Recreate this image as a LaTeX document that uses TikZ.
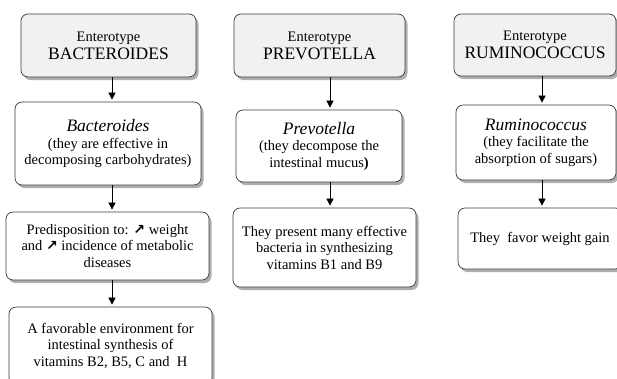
\documentclass[tikz,border=0pt]{standalone}
\usepackage{fontspec}
\setmainfont{Liberation Serif}
\newfontfamily\symfont{DejaVu Sans}
\usepackage{tikz}
\usetikzlibrary{arrows.meta,shadows}
\definecolor{cadreGris}{HTML}{3C3C3C}
\definecolor{fondEntete}{HTML}{F1F1F1}
\newcommand{\txtEntete}{\fontsize{14.5}{16}\selectfont}
\newcommand{\txtNom}{\fontsize{17.5}{20}\selectfont}
\newcommand{\txtCorps}{\fontsize{14.5}{16.5}\selectfont}
\newcommand{\hausse}{{\symfont\bfseries\fontsize{14}{14}\selectfont ↗}}

\begin{document}
\begin{tikzpicture}[x=1pt,y=-1pt,
  boite/.style={draw=cadreGris,line width=0.7pt,rounded corners=7pt,fill=white,
    align=center,inner sep=0pt,font=\txtCorps,
    drop shadow={shadow xshift=2.5pt,shadow yshift=-3pt,fill=black!45,opacity=0.7}},
  entete/.style={boite,fill=fondEntete,font=\txtEntete},
  fleche/.style={-{Triangle[length=7pt,width=7pt]},line width=0.6pt}]
\useasboundingbox (0,0) rectangle (617,378);
% colonne Bacteroides
\node[entete,minimum width=175,minimum height=63] (bact1) at (108.5,45.5)
  {Enterotype\\[2pt]\txtNom BACTEROIDES};
\node[boite,minimum width=186,minimum height=83] (bact2) at (108,143.5)
  {\txtNom\textit{Bacteroides}\\(they are effective in\\decomposing carbohydrates)};
\node[boite,minimum width=203,minimum height=68] (bact3) at (107.5,246)
  {Predisposition to: \hausse{} weight\\and \hausse{} incidence of metabolic\\diseases};
\node[boite,minimum width=203,minimum height=78] (bact4) at (110.5,346)
  {A favorable environment for\\intestinal synthesis of\\vitamins B2, B5, C and\ \ H};
% colonne Prevotella
\node[entete,minimum width=171,minimum height=63] (prev1) at (319.5,45.5)
  {Enterotype\\[2pt]\txtNom PREVOTELLA};
\node[boite,minimum width=166,minimum height=72] (prev2) at (319,146)
  {\txtNom\textit{Prevotella}\\(they decompose the\\intestinal mucus\textbf{)}};
\node[boite,minimum width=183,minimum height=79] (prev3) at (324.5,247.5)
  {They present many effective\\bacteria in synthesizing\\vitamins B1 and B9};
% colonne Ruminococcus
\node[entete,minimum width=162,minimum height=62] (rumi1) at (535,45)
  {Enterotype\\[2pt]\txtNom RUMINOCOCCUS};
\node[boite,minimum width=160,minimum height=75] (rumi2) at (536,142.5)
  {\txtNom\textit{Ruminococcus}\\(they facilitate the\\absorption of sugars)};
\node[boite,minimum width=164,minimum height=61] (rumi3) at (540,238.5)
  {They\ \ favor weight gain};
% fleches
\coordinate (axeB) at (112,0);
\coordinate (axeP) at (330,0);
\coordinate (axeR) at (542,0);
\draw[fleche] (bact1.south -| axeB) -- ([yshift=2]bact2.north -| axeB);
\draw[fleche] (bact2.south -| axeB) -- ([yshift=2]bact3.north -| axeB);
\draw[fleche] (bact3.south -| axeB) -- ([yshift=2]bact4.north -| axeB);
\draw[fleche] (prev1.south -| axeP) -- ([yshift=2]prev2.north -| axeP);
\draw[fleche] (prev2.south -| axeP) -- ([yshift=2]prev3.north -| axeP);
\draw[fleche] (rumi1.south -| axeR) -- ([yshift=2]rumi2.north -| axeR);
\draw[fleche] (rumi2.south -| axeR) -- ([yshift=2]rumi3.north -| axeR);
\end{tikzpicture}
\end{document}
